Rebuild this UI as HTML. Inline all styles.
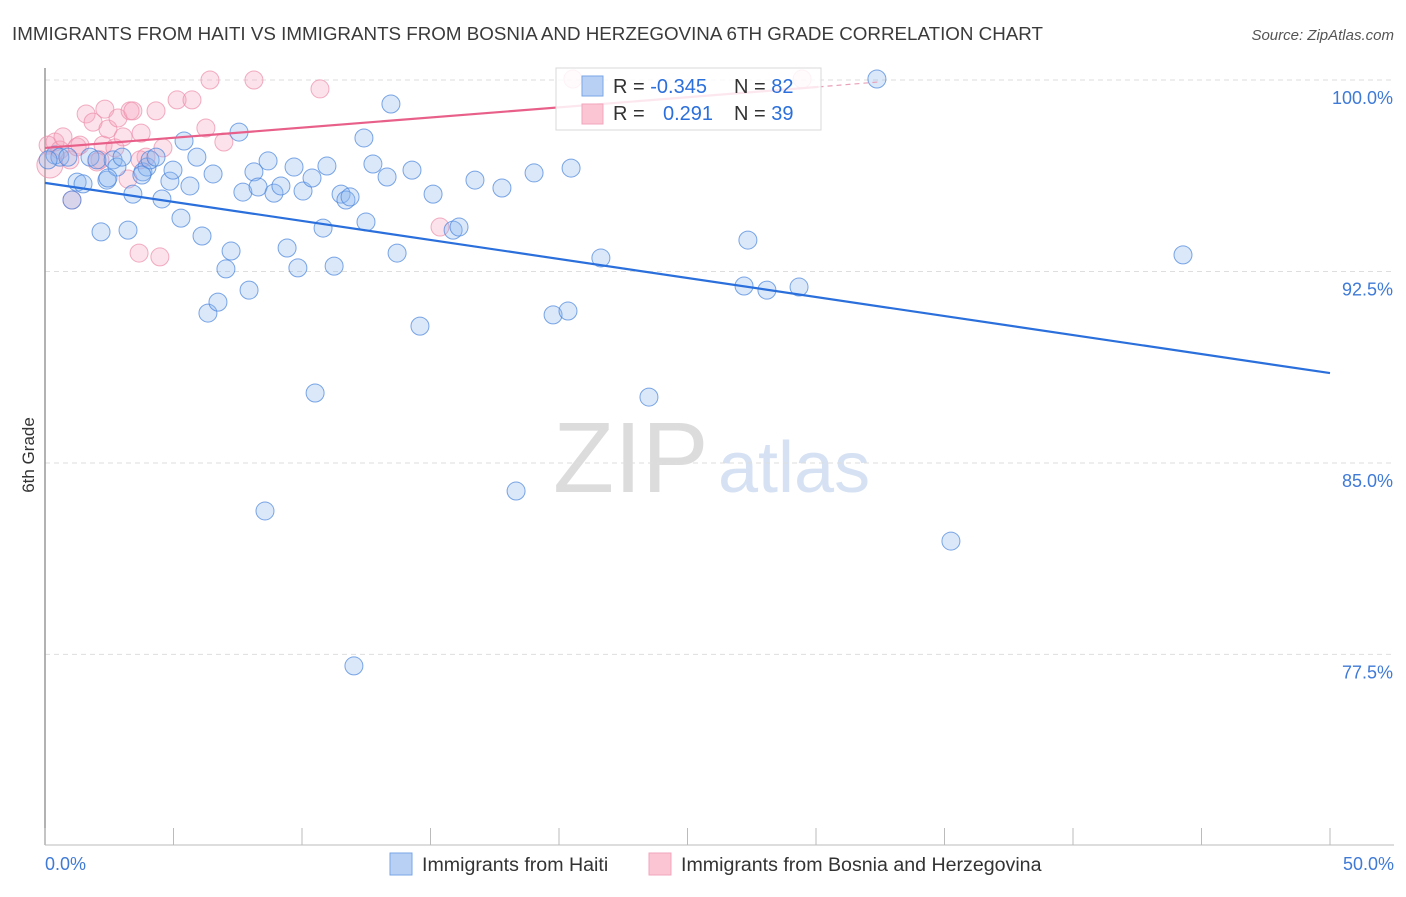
<!DOCTYPE html>
<html><head><meta charset="utf-8"><style>
body{margin:0;background:#fff;font-family:"Liberation Sans",sans-serif;}
svg text{font-family:"Liberation Sans",sans-serif;}
</style></head><body>
<svg id="chart" width="1406" height="892" viewBox="0 0 1406 892" xmlns="http://www.w3.org/2000/svg">
<text x="12" y="40" font-size="18.5" fill="#3a3a3a" textLength="1031" lengthAdjust="spacingAndGlyphs">IMMIGRANTS FROM HAITI VS IMMIGRANTS FROM BOSNIA AND HERZEGOVINA 6TH GRADE CORRELATION CHART</text>
<text x="1394" y="40" font-size="15" fill="#555" font-style="italic" text-anchor="end">Source: ZipAtlas.com</text>
<g>
<text x="553" y="492" font-size="100" fill="#dcdcdc" font-family="Liberation Serif, serif">ZIP</text>
<text x="718" y="492" font-size="72" fill="#d6e2f3">atlas</text>
</g>
<g id="grid"></g>
<g id="axes"></g>
<g id="pts"></g>
<g id="trend"></g>
<g>
<rect x="556" y="68" width="265" height="62" fill="#fff" fill-opacity="0.85" stroke="#d8d8d8"/>
<rect x="582" y="76" width="21" height="20" fill="#b8d0f4" stroke="#7aa6e6"/>
<rect x="582" y="104" width="21" height="20" fill="#fbc5d4" stroke="#f2a6bd"/>
<text x="613" y="93" font-size="20" fill="#333">R = <tspan fill="#2a6fdb">-0.345</tspan></text>
<text x="734" y="93" font-size="20" fill="#333">N = <tspan fill="#2a6fdb">82</tspan></text>
<text x="613" y="120" font-size="20" fill="#333">R = </text>
<text x="663" y="120" font-size="20" fill="#2a6fdb">0.291</text>
<text x="734" y="120" font-size="20" fill="#333">N = <tspan fill="#2a6fdb">39</tspan></text>
</g>
<g>
<rect x="390" y="853" width="22" height="22" fill="#b8d0f4" stroke="#7aa6e6"/>
<text x="422" y="871" font-size="19.6" fill="#333">Immigrants from Haiti</text>
<rect x="649" y="853" width="22" height="22" fill="#fbc5d4" stroke="#f2a6bd"/>
<text x="681" y="871" font-size="19.6" fill="#333">Immigrants from Bosnia and Herzegovina</text>
</g>
<text transform="translate(34,455) rotate(-90)" font-size="17" fill="#333" text-anchor="middle">6th Grade</text>
</svg>
<script>
const yTicks=[100,92.5,85,77.5];
const yTickLabels=["100.0%","92.5%","85.0%","77.5%"];
const xTickVals=[0,5,10,15,20,25,30,35,40,45,50];
const xEndLabels=["0.0%","50.0%"];
const haitiX=[0.39,0.58,0.89,1.05,1.25,1.48,1.75,2.02,2.18,2.41,2.65,2.80,3.00,3.23,3.42,3.81,3.97,4.09,4.32,4.55,4.86,4.98,5.29,5.41,5.64,5.91,6.11,6.34,6.54,6.73,7.04,7.24,7.55,7.70,7.94,8.13,8.29,8.68,8.91,9.18,9.42,9.69,9.84,10.04,10.39,10.51,10.82,10.97,11.25,11.52,11.71,11.87,12.02,12.41,12.49,12.76,13.31,13.46,13.70,14.28,14.59,15.10,15.88,16.11,16.73,17.78,18.33,19.03,19.77,20.35,20.47,21.63,23.50,27.20,27.35,28.09,29.34,32.37,35.25,44.28,8.56,2.45,3.77,0.12];
const haitiY=[97.06,96.98,96.98,95.30,96.00,95.93,96.98,96.87,94.05,96.08,96.87,96.59,96.98,94.12,95.53,96.40,96.59,96.87,96.98,95.34,96.04,96.47,94.59,97.61,95.85,96.98,93.89,90.87,96.32,91.30,92.60,93.30,97.96,95.61,91.77,96.40,95.81,96.83,95.57,95.85,93.42,96.59,92.64,95.65,96.16,87.74,94.20,96.63,92.71,95.53,95.30,95.42,77.05,97.73,94.44,96.71,96.20,99.06,93.22,96.47,90.36,95.53,94.12,94.24,96.08,95.77,83.90,96.36,90.80,90.95,96.55,93.03,87.58,91.93,93.73,91.77,91.89,100.04,81.94,93.15,83.12,96.16,96.28,96.87];
const bosniaX=[0.12,0.19,0.39,0.58,0.70,0.97,1.05,1.25,1.36,1.60,1.87,2.02,2.26,2.33,2.45,2.72,2.84,3.04,3.23,3.31,3.42,3.66,3.74,3.93,4.32,4.47,4.59,5.14,5.72,6.26,6.42,6.96,8.13,10.70,15.37,20.54,29.46,2.14,3.70];
const bosniaY=[97.45,96.67,97.57,97.26,97.77,96.87,95.30,97.38,97.45,98.67,98.35,96.79,97.45,98.86,98.08,97.34,98.51,97.77,96.12,98.79,98.79,93.22,97.92,96.98,98.79,93.07,97.34,99.22,99.22,98.12,100.0,97.57,100.0,99.65,94.24,100.04,100.04,96.87,96.87];
const haitiTrend=[[0,95.97],[50,88.52]];
const bosniaTrend=[[0,97.34],[30.1,99.73]];
const bosniaTrendExt=[[30.1,99.73],[32.4,99.92]];

const NS="http://www.w3.org/2000/svg";
const X0=45,X1=1330,Y100=80,PXPER=25.53;
function xs(v){return X0+(X1-X0)*v/50;}
function ys(v){return Y100+(100-v)*PXPER;}
function mk(tag,attrs,parent){const e=document.createElementNS(NS,tag);for(const k in attrs)e.setAttribute(k,attrs[k]);parent.appendChild(e);return e;}
const grid=document.getElementById('grid'),axes=document.getElementById('axes');
yTicks.forEach((t,i)=>{
  const l=mk('line',{x1:45,x2:1394,y1:ys(t),y2:ys(t),stroke:'#dedede','stroke-dasharray':'5,4'},grid);
  
  
  const tx=mk('text',{x:1393,y:ys(t)+24,'font-size':18,fill:'#3f7ad6','text-anchor':'end'},axes);
  tx.textContent=yTickLabels[i];
  
  
});
const ya=mk('line',{x1:45,x2:45,y1:68,y2:845,stroke:'#999','stroke-width':1.5},axes);


const xa=mk('line',{x1:45,x2:1394,y1:845,y2:845,stroke:'#bbb'},axes);


xTickVals.forEach(v=>{
  const t=mk('line',{x1:xs(v),x2:xs(v),y1:828,y2:845,stroke:'#bbb'},axes);
  
  
});
[[0,'start',45],[50,'end',1394]].forEach((a,i)=>{
  const t=mk('text',{x:a[2],y:870,'font-size':18,fill:'#3f7ad6','text-anchor':a[1]},axes);
  t.textContent=xEndLabels[i];
  
  
});
const pts=document.getElementById('pts');


bosniaX.forEach((v,i)=>{
  const c=mk('circle',{cx:xs(v),cy:ys(bosniaY[i]),r:i===1?13:9,fill:'rgba(246,165,190,0.32)',stroke:'rgba(236,140,170,0.7)','stroke-width':1},pts);
  
  
});
haitiX.forEach((v,i)=>{
  const c=mk('circle',{cx:xs(v),cy:ys(haitiY[i]),r:9,fill:'rgba(140,182,238,0.32)',stroke:'rgba(70,130,220,0.7)','stroke-width':1},pts);
  
  
});
const tr=document.getElementById('trend');
const l1=mk('line',{x1:xs(haitiTrend[0][0]),y1:ys(haitiTrend[0][1]),x2:xs(haitiTrend[1][0]),y2:ys(haitiTrend[1][1]),stroke:'#2a6fdb','stroke-width':2.2},tr);


const l2=mk('line',{x1:xs(bosniaTrend[0][0]),y1:ys(bosniaTrend[0][1]),x2:xs(bosniaTrend[1][0]),y2:ys(bosniaTrend[1][1]),stroke:'#e8608a','stroke-width':2.2},tr);


const l3=mk('line',{x1:xs(bosniaTrendExt[0][0]),y1:ys(bosniaTrendExt[0][1]),x2:xs(bosniaTrendExt[1][0]),y2:ys(bosniaTrendExt[1][1]),stroke:'#e8a0b8','stroke-width':1.2,'stroke-dasharray':'5,4'},tr);


</script>
</body></html>
